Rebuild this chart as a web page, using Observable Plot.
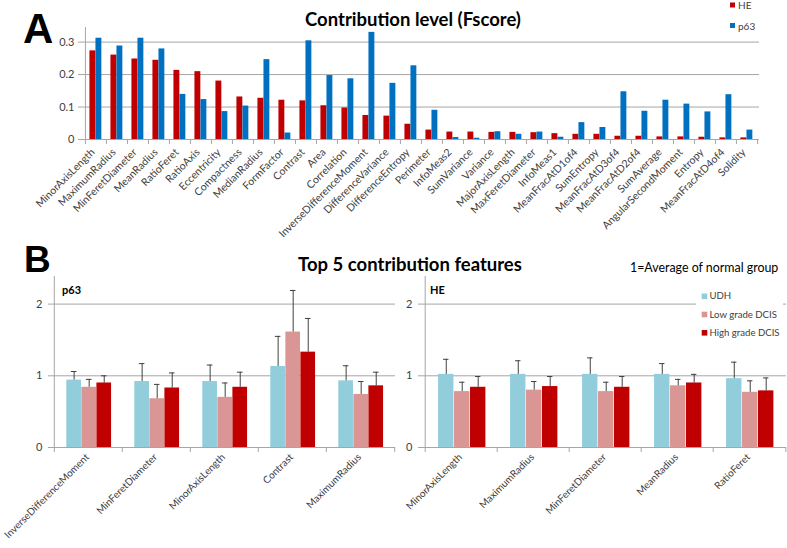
<!DOCTYPE html>
<html><head><meta charset="utf-8">
<script src="https://cdn.jsdelivr.net/npm/d3@7"></script>
<script src="https://cdn.jsdelivr.net/npm/@observablehq/plot@0.6"></script>
<style>
body{margin:0;background:#fff;}
#chart{position:relative;width:787px;height:548px;overflow:hidden;background:#fff;}
#chart > svg{position:absolute;}
</style></head><body><div id="chart"></div>
<script>
// ---------- Panel A data ----------
const featuresA = ["MinorAxisLength","MaximumRadius","MinFeretDiameter","MeanRadius","RatioFeret","RatioAxis","Eccentricity","Compactness","MedianRadius","FormFactor","Contrast","Area","Correlation","InverseDifferenceMoment","DifferenceVariance","DifferenceEntropy","Perimeter","InfoMeas2","SumVariance","Variance","MajorAxisLength","MaxFeretDiameter","InfoMeas1","MeanFracAtD1of4","SumEntropy","MeanFracAtD3of4","MeanFracAtD2of4","SumAverage","AngularSecondMoment","Entropy","MeanFracAtD4of4","Solidity"];
const heScores  = [0.273,0.260,0.248,0.244,0.213,0.209,0.180,0.131,0.127,0.121,0.119,0.104,0.097,0.074,0.072,0.047,0.029,0.023,0.023,0.022,0.022,0.021,0.018,0.016,0.016,0.010,0.010,0.008,0.008,0.007,0.005,0.005];
const p63Scores = [0.312,0.288,0.312,0.279,0.139,0.123,0.086,0.103,0.246,0.020,0.304,0.197,0.187,0.330,0.173,0.227,0.090,0.006,0.004,0.024,0.016,0.023,0.007,0.052,0.037,0.147,0.087,0.121,0.109,0.085,0.138,0.029];
const yTicksA = [0, 0.1, 0.2, 0.3];

// ---------- Panel B data ----------
const groupNames = ["UDH", "Low grade DCIS", "High grade DCIS"];
const groupColors = ["#92CDDC", "#DA9694", "#C00000"];
const yTicksB = [0, 1, 2];

const p63Features = ["InverseDifferenceMoment","MinFeretDiameter","MinorAxisLength","Contrast","MaximumRadius"];
const p63UDH     = [0.94, 0.92, 0.92, 1.13, 0.93];
const p63UDHErr  = [0.12, 0.25, 0.23, 0.42, 0.21];
const p63Low     = [0.84, 0.68, 0.70, 1.61, 0.74];
const p63LowErr  = [0.11, 0.20, 0.20, 0.58, 0.18];
const p63High    = [0.90, 0.83, 0.84, 1.33, 0.86];
const p63HighErr = [0.10, 0.21, 0.21, 0.47, 0.19];

const heFeatures = ["MinorAxisLength","MaximumRadius","MinFeretDiameter","MeanRadius","RatioFeret"];
const heUDH      = [1.02, 1.02, 1.02, 1.02, 0.96];
const heUDHErr   = [0.21, 0.19, 0.23, 0.15, 0.23];
const heLow      = [0.78, 0.80, 0.78, 0.86, 0.77];
const heLowErr   = [0.13, 0.12, 0.13, 0.09, 0.16];
const heHigh     = [0.84, 0.85, 0.84, 0.90, 0.79];
const heHighErr  = [0.15, 0.14, 0.15, 0.12, 0.18];

// ---------- styling ----------
const axisGray = "#a6a6a6";
const labelColor = "#404040";
const FONT = "Lato, 'Open Sans', sans-serif";
const container = document.getElementById("chart");

function place(svg, left, top) {
  svg.style.left = left + "px";
  svg.style.top = top + "px";
  container.appendChild(svg);
}

// ---------- Panel A ----------
{
  const W = 787, H = 245, mt = 27, mb = 106, ml = 83, mr = 28;
  const bw = (W - ml - mr) / featuresA.length;
  const barW = bw * 0.285, off = bw * 0.21;
  const ph = H - mt - mb;
  const rows = featuresA.map((f, i) => ({feature: f, HE: heScores[i], p63: p63Scores[i]}));
  const chart = Plot.plot({
    width: W, height: H, marginTop: mt, marginBottom: mb, marginLeft: ml, marginRight: mr,
    style: {fontFamily: FONT, fontSize: "10.5px", color: labelColor, background: "transparent", overflow: "visible"},
    x: {domain: featuresA, padding: 0, label: null},
    y: {domain: [0, 0.345], label: null},
    marks: [
      Plot.ruleY(yTicksA.slice(1), {stroke: axisGray}),
      Plot.barY(rows, {x: "feature", y: "HE", fill: "#C00000", insetLeft: off, insetRight: bw - off - barW}),
      Plot.barY(rows, {x: "feature", y: "p63", fill: "#0070C0", insetLeft: off + barW, insetRight: bw - off - 2 * barW}),
      Plot.ruleY([0], {stroke: axisGray}),
      Plot.ruleX([featuresA[0]], {dx: -bw / 2, stroke: axisGray}),
      Plot.ruleX(featuresA, {dx: -bw / 2, insetTop: ph, insetBottom: -5, stroke: axisGray}),
      Plot.ruleX([featuresA[featuresA.length - 1]], {dx: bw / 2, insetTop: ph, insetBottom: -5, stroke: axisGray}),
      Plot.axisY({ticks: yTicksA, tickSize: 5, tickPadding: 4, stroke: axisGray, fontSize: 11,
        tickFormat: d => d === 0 ? "0" : d.toFixed(1), label: null}),
      Plot.axisX({tickSize: 0, tickPadding: 5, tickRotate: -45, fontSize: 10.5, dx: -3, dy: 6, label: null})
    ]
  });
  place(chart, 0, 0);
}

// ---------- Panel B ----------
function panelB(features, series, width, ml, mr) {
  const H = 298, mt = 26, mb = 101;
  const bw = (width - ml - mr) / features.length;
  const bW = bw * 0.22, off = bw * 0.18;
  const ph = H - mt - mb;
  const marks = [Plot.ruleY(yTicksB.slice(1), {stroke: axisGray})];
  series.forEach(([vals, errs], g) => {
    const rows = features.map((f, i) => ({feature: f, value: vals[i], top: vals[i] + errs[i]}));
    const center = off + (g + 0.5) * bW;
    marks.push(
      Plot.barY(rows, {x: "feature", y: "value", fill: groupColors[g],
        insetLeft: off + g * bW, insetRight: bw - off - (g + 1) * bW}),
      Plot.ruleX(rows, {x: "feature", y1: "value", y2: "top", dx: center - bw / 2, stroke: "#404040"}),
      Plot.tickY(rows, {x: "feature", y: "top", stroke: "#404040",
        insetLeft: center - 3, insetRight: bw - center - 3})
    );
  });
  marks.push(
    Plot.ruleY([0], {stroke: axisGray}),
    Plot.ruleX([features[0]], {dx: -bw / 2, stroke: axisGray}),
    Plot.ruleX(features, {dx: -bw / 2, insetTop: ph, insetBottom: -5, stroke: axisGray}),
    Plot.ruleX([features[features.length - 1]], {dx: bw / 2, insetTop: ph, insetBottom: -5, stroke: axisGray}),
    Plot.axisY({ticks: yTicksB, tickSize: 5, tickPadding: 6, stroke: axisGray, fontSize: 11,
      tickFormat: d3.format("d"), label: null}),
    Plot.axisX({tickSize: 0, tickPadding: 5, tickRotate: -45, fontSize: 10, dx: -1, dy: 3, label: null})
  );
  return Plot.plot({
    width, height: H, marginTop: mt, marginBottom: mb, marginLeft: ml, marginRight: mr,
    style: {fontFamily: FONT, fontSize: "11px", color: labelColor, background: "transparent", overflow: "visible"},
    x: {domain: features, padding: 0, label: null},
    y: {domain: [0, 2.385], label: null},
    marks
  });
}

place(panelB(p63Features, [[p63UDH, p63UDHErr], [p63Low, p63LowErr], [p63High, p63HighErr]], 395, 53, 0), 0, 250);
place(panelB(heFeatures, [[heUDH, heUDHErr], [heLow, heLowErr], [heHigh, heHighErr]], 392, 28, 1), 395, 250);

// ---------- annotations overlay ----------
const NS = "http://www.w3.org/2000/svg";
const ov = document.createElementNS(NS, "svg");
ov.setAttribute("width", 787); ov.setAttribute("height", 548);
ov.style.left = "0px"; ov.style.top = "0px"; ov.style.pointerEvents = "none";
container.appendChild(ov);
function txt(s, x, y, size, opts = {}) {
  const t = document.createElementNS(NS, "text");
  t.textContent = s;
  t.setAttribute("x", x); t.setAttribute("y", y);
  t.setAttribute("font-size", size);
  t.setAttribute("font-family", opts.family || FONT);
  t.setAttribute("font-weight", opts.bold ? "bold" : "normal");
  t.setAttribute("fill", opts.fill || "#000");
  if (opts.anchor) t.setAttribute("text-anchor", opts.anchor);
  ov.appendChild(t);
}
function rect(x, y, w, h, fill) {
  const r = document.createElementNS(NS, "rect");
  r.setAttribute("x", x); r.setAttribute("y", y); r.setAttribute("width", w); r.setAttribute("height", h);
  r.setAttribute("fill", fill);
  ov.appendChild(r);
}
txt("A", 23, 43, 42, {bold: true, family: "'Liberation Sans', Arial, sans-serif"});
txt("B", 24, 272, 37, {bold: true, family: "'Liberation Sans', Arial, sans-serif"});
txt("Contribution level (Fscore)", 413, 25.5, 18.5, {bold: true, anchor: "middle"});
// legend A
rect(730, 2.5, 5, 5, "#C00000");
txt("HE", 738, 9, 10, {fill: labelColor});
rect(730, 23, 5, 5, "#0070C0");
txt("p63", 738, 30, 10, {fill: labelColor});
// panel B titles
txt("Top 5 contribution features", 410, 271, 18.5, {bold: true, anchor: "middle"});
txt("1=Average of normal group", 630, 272, 12.4, {fill: "#000"});
txt("p63", 62, 293.5, 11, {bold: true});
txt("HE", 430, 294, 11, {bold: true});
// legend B
rect(696, 285, 87, 57, "#fff");
const legendY = [293.5, 311.7, 330];
groupNames.forEach((g, i) => {
  rect(701.7, legendY[i], 5.6, 5.6, groupColors[i]);
  txt(g, 709.5, legendY[i] + 5.8, 9.6, {fill: labelColor});
});
</script></body></html>
